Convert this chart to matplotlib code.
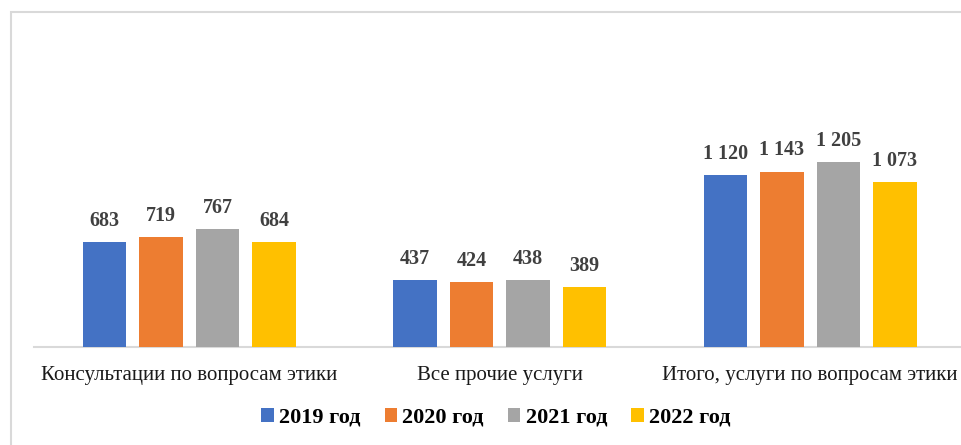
import matplotlib
matplotlib.use("Agg")
import matplotlib.pyplot as plt
import numpy as np
from matplotlib.patches import Rectangle

categories = ["Консультации по вопросам этики", "Все прочие услуги", "Итого, услуги по вопросам этики"]
series_names = ["2019 год", "2020 год", "2021 год", "2022 год"]
values_2019 = [683, 437, 1120]
values_2020 = [719, 424, 1143]
values_2021 = [767, 438, 1205]
values_2022 = [684, 389, 1073]
colors = ["#4472C4", "#ED7D31", "#A5A5A5", "#FFC000"]

plt.rcParams['font.family'] = ['Liberation Serif', 'DejaVu Serif']

W, H = 961, 445
fig = plt.figure(figsize=(W / 100, H / 100), dpi=100)
fig.patch.set_facecolor("white")

# frame around chart
fig.add_artist(Rectangle((10.5 / W, -0.1), 1.2, (H - 11.5) / H + 0.1, transform=fig.transFigure,
                         fill=False, edgecolor="#d9d9d9", linewidth=1.5))

left_px, right_px = 34, 965.5
base_px = 347
ymax = 1400
px_per_unit = 0.1535
ax = fig.add_axes([left_px / W, (H - base_px) / H, (right_px - left_px) / W, ymax * px_per_unit / H])
ax.set_facecolor("none")

x = np.arange(len(categories))
all_vals = [values_2019, values_2020, values_2021, values_2022]
bw = 0.1415
step = 0.182
for i, (vals, name, c) in enumerate(zip(all_vals, series_names, colors)):
    pos = x + (i - 1.5) * step
    bars = ax.bar(pos, vals, width=bw, color=c, label=name, zorder=3)
    for b, v in zip(bars, vals):
        txt = f"{v:,}".replace(",", " ")
        ax.annotate(txt, (b.get_x() + b.get_width() / 2, v), xytext=(0, 8),
                    textcoords="offset points", ha="center", va="bottom",
                    fontsize=14.5, fontweight="bold", color="#404040")

ax.set_xlim(-0.5, len(categories) - 0.5)
ax.set_ylim(0, ymax)
for s in ["top", "right", "left"]:
    ax.spines[s].set_visible(False)
ax.spines["bottom"].set_color("#d9d9d9")
ax.spines["bottom"].set_linewidth(1.5)
ax.set_yticks([])
ax.set_xticks(x)
ax.set_xticklabels(categories, fontsize=15, color="#1a1a1a")
ax.tick_params(axis="x", length=0, pad=14)

leg = fig.legend(loc="center", bbox_to_anchor=(496 / W, (H - 418) / H), ncol=4, frameon=False,
                 prop={"size": 16, "weight": "bold"}, handlelength=0.55, handleheight=0.55,
                 handletextpad=0.25, columnspacing=1.08)

fig.savefig("out.png", dpi=100)
